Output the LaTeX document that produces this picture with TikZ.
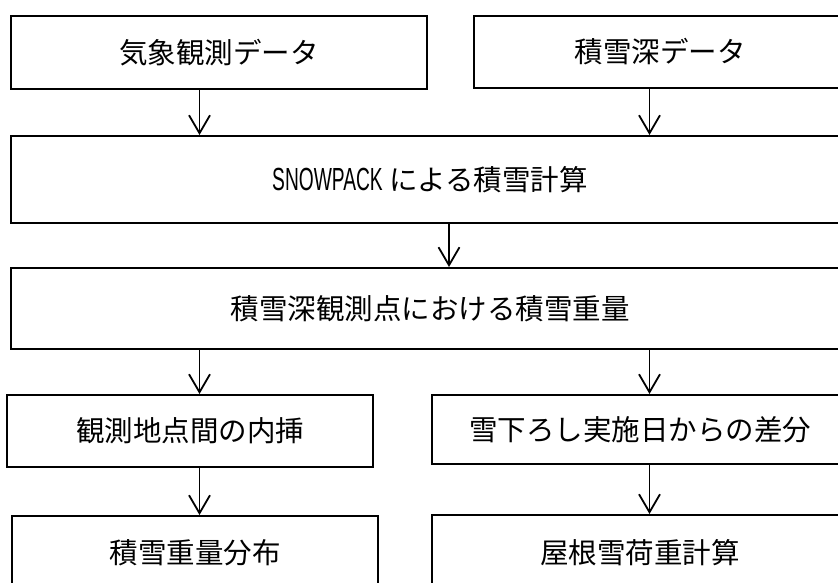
\documentclass[tikz,border=0pt]{standalone}
\usepackage{fontspec}
\setmainfont{Noto Sans CJK JP}
\newfontfamily\latinfont[FakeStretch=0.6]{Liberation Sans}
\usepackage{tikz}
\usetikzlibrary{arrows.meta}
\tikzstyle{stage} = [rectangle, draw=black, line width=2pt, inner sep=0pt, font=\fontsize{28.5}{34}\selectfont]
\tikzstyle{flow} = [line width=1.8pt, -{Straight Barb[length=18pt, width=21pt, line width=1.8pt]}]
\newcommand{\snowpack}{{\fontsize{32}{34}\latinfont SNOWPACK}}

\begin{document}
\begin{tikzpicture}[x=1pt, y=-1pt]
				\clip (0,0) rectangle (838,583);
				\fill[white] (0,0) rectangle (838,583);
				\node [stage, minimum width=416pt, minimum height=73pt] (kisho) at (219,52.5) {気象観測データ};
				\node [stage, minimum width=372pt, minimum height=72pt] (sekisetsu) at (660,52) {積雪深データ};
				\node [stage, minimum width=838pt, minimum height=87pt] (keisan) at (430,179.5) {\snowpack\ による積雪計算};
				\node [stage, minimum width=838pt, minimum height=81pt] (juryo) at (430,308.5) {積雪深観測点における積雪重量};
				\node [stage, minimum width=366pt, minimum height=72pt] (naiso) at (190,431) {観測地点間の内挿};
				\node [stage, minimum width=416pt, minimum height=69pt] (sabun) at (640,429.5) {雪下ろし実施日からの差分};
				\node [stage, minimum width=366pt, minimum height=74pt] (bunpu) at (195,553) {積雪重量分布};
				\node [stage, minimum width=416pt, minimum height=75pt] (yane) at (640,552.5) {屋根雪荷重計算};
				\coordinate (left) at (199.5,0);
				\coordinate (mid) at (449,0);
				\coordinate (right) at (649.5,0);
				\draw [flow] (kisho.south -| left) -- (keisan.north -| left);
				\draw [flow] (sekisetsu.south -| right) -- (keisan.north -| right);
				\draw [flow] (keisan.south -| mid) -- (juryo.north -| mid);
				\draw [flow] (juryo.south -| left) -- (naiso.north -| left);
				\draw [flow] (juryo.south -| right) -- (sabun.north -| right);
				\draw [flow] (naiso.south -| left) -- (bunpu.north -| left);
				\draw [flow] (sabun.south -| right) -- (yane.north -| right);
			\end{tikzpicture}
\end{document}
